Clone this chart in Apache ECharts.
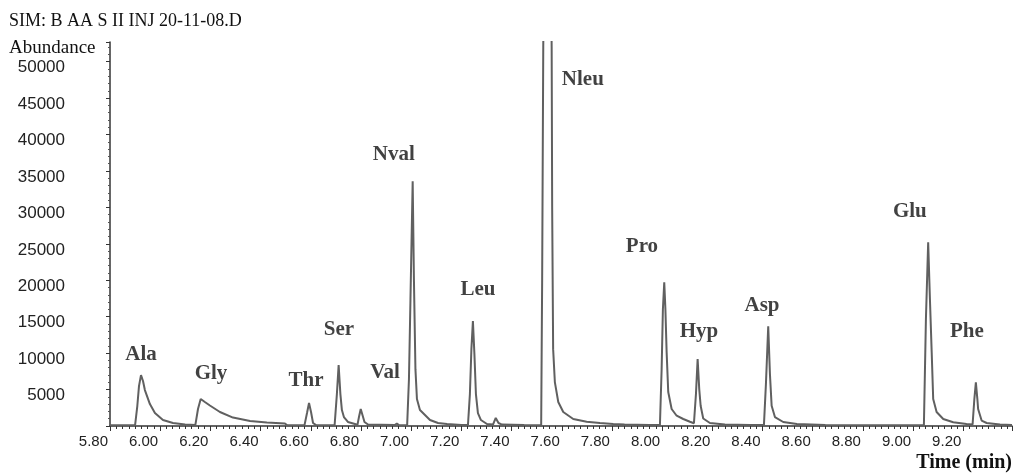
<!DOCTYPE html>
<html>
<head>
<meta charset="utf-8">
<script src="https://cdn.jsdelivr.net/npm/echarts@6/dist/echarts.min.js"></script>
<style>
html, body { margin: 0; padding: 0; background: #fff; }
#main { width: 1017px; height: 473px; }
</style>
</head>
<body>
<div id="main"></div>
<script>
// SIM trace: [time (min), abundance]
var trace = [
    [5.800, 120], [5.900, 120],
    // Ala
    [5.9036, 150], [5.9088, 2740], [5.9155, 5480], [5.9235, 6990], [5.9315, 6170], [5.939, 4930],
    [5.959, 3010], [5.979, 1780], [6.011, 820], [6.051, 410], [6.099, 200], [6.140, 130],
    // Gly
    [6.1426, 200], [6.1506, 2330], [6.1614, 3700], [6.178, 3290], [6.198, 2810], [6.238, 1920],
    [6.290, 1160], [6.358, 685], [6.425, 480], [6.497, 340], [6.505, 120], [6.575, 120],
    // Thr
    [6.577, 150], [6.585, 1780], [6.593, 3150], [6.601, 1920], [6.609, 410], [6.621, 130], [6.695, 120],
    // Ser
    [6.698, 150], [6.704, 4380], [6.711, 8360], [6.718, 4380], [6.724, 2190], [6.732, 1230],
    [6.748, 550], [6.776, 270],
    [6.786, 150], [6.792, 1230], [6.799, 2330], [6.806, 1510], [6.814, 550], [6.828, 200],
    [6.935, 130], [6.943, 350], [6.951, 130], [6.984, 120],
    // Nval
    [6.9853, 150], [6.9912, 6440], [6.9972, 17400], [7.006, 33600], [7.011, 20100], [7.017, 7800],
    [7.023, 3700], [7.035, 2190], [7.055, 1510], [7.075, 820], [7.107, 410], [7.143, 270], [7.20, 150],
    // Leu
    [7.2263, 150], [7.234, 4380], [7.240, 10550], [7.246, 14400], [7.252, 9860], [7.258, 4380],
    [7.266, 1780], [7.278, 820], [7.302, 270], [7.326, 200], [7.337, 1100], [7.348, 410],
    [7.362, 200], [7.45, 130], [7.518, 120],
    // Nleu (off scale)
    [7.5191, 150], [7.5219, 20000], [7.5263, 52000], [7.5311, 70000], [7.5430, 80000], [7.5550, 70000],
    [7.5598, 52000], [7.5618, 30000], [7.5657, 10550], [7.5725, 6030], [7.5861, 3290], [7.6060, 1920],
    [7.6458, 960], [7.6992, 590], [7.7522, 400], [7.8052, 275], [7.85, 200], [7.95, 130],
    // Pro
    [7.9912, 150], [7.998, 7810], [8.003, 16030], [8.0084, 19730], [8.013, 16030], [8.0179, 10140],
    [8.0243, 4660], [8.0378, 2330], [8.0578, 1410], [8.0841, 960], [8.1108, 590], [8.1267, 380],
    // Hyp
    [8.1347, 4380], [8.1414, 9180], [8.1478, 5070], [8.1534, 2780], [8.1637, 1030], [8.1904, 410],
    [8.250, 200], [8.35, 130],
    // Asp
    [8.4056, 150], [8.4135, 5750], [8.4227, 13700], [8.4295, 7120], [8.4363, 2780], [8.4494, 1230],
    [8.4825, 550], [8.537, 270], [8.65, 150], [9.0, 120],
    // Glu
    [9.043, 150], [9.051, 14660], [9.060, 25200], [9.067, 17400], [9.074, 10140], [9.080, 3700],
    [9.0936, 1920], [9.120, 960], [9.1598, 510], [9.213, 270],
    // Phe
    [9.237, 220], [9.244, 3700], [9.250, 5990], [9.256, 3700], [9.259, 2330], [9.273, 750],
    [9.293, 410], [9.346, 200], [9.394, 150]
];

// peak names and where their labels sit (time, abundance)
var peakNames = ["Ala", "Gly", "Thr", "Ser", "Val", "Nval", "Leu", "Nleu", "Pro", "Hyp", "Asp", "Glu", "Phe"];
var peakLabelTime = [5.9235, 6.2024, 6.581, 6.712, 6.896, 6.931, 7.266, 7.684, 7.9195, 8.147, 8.398, 8.987, 9.214];
var peakLabelAbund = [9860, 7260, 6300, 13290, 7400, 37260, 18770, 47540, 24660, 13000, 16580, 29455, 13015];

var timeMin = 5.80, timeMax = 9.394;
var abundMax = 52700;

var labelData = [];
for (var i = 0; i < peakNames.length; i++) {
    labelData.push({ name: peakNames[i], value: [peakLabelTime[i], peakLabelAbund[i]] });
}

var myChart = echarts.init(document.getElementById("main"));
var option = {
    backgroundColor: "#fff",
    animation: false,
    title: [
        { text: "SIM: B AA S II INJ 20-11-08.D", left: 9, top: 12, padding: 0,
          textStyle: { fontFamily: "Liberation Serif", fontSize: 18, fontWeight: "normal", color: "#111" } },
        { text: "Abundance", left: 9, top: 39, padding: 0,
          textStyle: { fontFamily: "Liberation Serif", fontSize: 19, fontWeight: "normal", color: "#111" } },
        { text: "Time (min)", right: 5, top: 453, padding: 0,
          textStyle: { fontFamily: "Liberation Serif", fontSize: 20, fontWeight: "bold", color: "#111" } }
    ],
    grid: { left: 110, right: 5, top: 42, bottom: 47 },
    xAxis: {
        type: "value",
        min: timeMin,
        max: timeMax,
        interval: 0.2,
        axisLine: { lineStyle: { color: "#333", width: 1.5 } },
        axisTick: { length: 5, lineStyle: { color: "#333" } },
        minorTick: { show: true, splitNumber: 8, length: 3, lineStyle: { color: "#333" } },
        splitLine: { show: false },
        axisLabel: {
            showMaxLabel: false,
            align: "right",
            margin: 8,
            padding: [0, 2, 0, 0],
            fontFamily: "Liberation Sans",
            fontSize: 15,
            color: "#222",
            formatter: function (v) {
                var r = Math.round(v / 0.2);
                return Math.abs(v - r * 0.2) < 1e-6 ? v.toFixed(2) : "";
            }
        }
    },
    yAxis: {
        type: "value",
        min: 0,
        max: abundMax,
        interval: 5000,
        axisLine: { show: true, lineStyle: { color: "#333", width: 1.5 } },
        axisTick: { show: true, length: 4, lineStyle: { color: "#333" } },
        minorTick: { show: true, splitNumber: 5, length: 2, lineStyle: { color: "#555" } },
        splitLine: { show: false },
        axisLabel: {
            showMinLabel: false,
            showMaxLabel: false,
            margin: 45,
            verticalAlign: "top",
            lineHeight: 12,
            fontFamily: "Liberation Sans",
            fontSize: 17,
            color: "#222",
            formatter: function (v) { return String(v); }
        }
    },
    series: [
        {
            type: "line",
            data: trace,
            symbol: "none",
            clip: true,
            lineStyle: { color: "#606060", width: 2 }
        },
        {
            type: "scatter",
            data: labelData,
            symbolSize: 1,
            itemStyle: { color: "rgba(0,0,0,0)" },
            label: {
                show: true,
                position: "inside",
                formatter: "{b}",
                fontFamily: "Liberation Serif",
                fontWeight: "bold",
                fontSize: 21,
                color: "#111"
            }
        }
    ]
};
myChart.setOption(option);
</script>
</body>
</html>
